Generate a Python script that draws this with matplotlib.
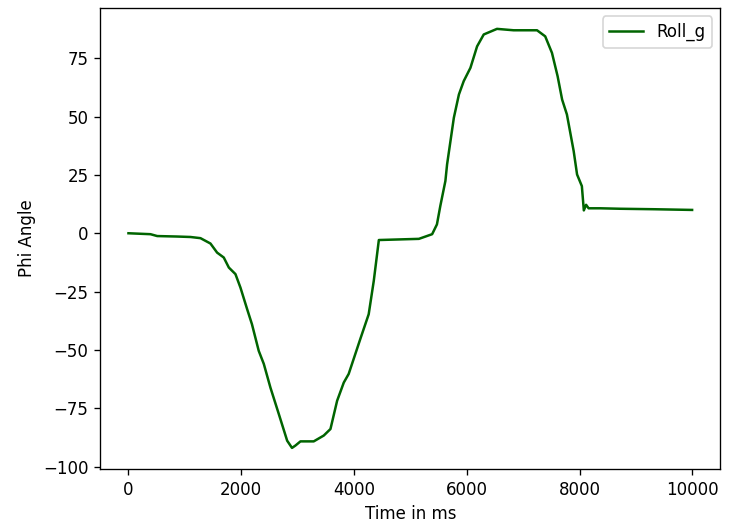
import numpy as np
import matplotlib.pyplot as plt

# values
time_ms = [0, 390, 510, 860, 1100, 1277, 1454, 1572, 1690, 1780, 1897, 1986,
           2104, 2190, 2310, 2400, 2518, 2665, 2814, 2900, 2960, 3050, 3285,
           3463, 3582, 3700, 3818, 3905, 4110, 4260, 4350, 4440, 5150, 5385,
           5470, 5530, 5620, 5650, 5770, 5860, 5945, 6064, 6182, 6300, 6535,
           6830, 7245, 7390, 7510, 7610, 7690, 7775, 7895, 7955, 8040, 8075,
           8115, 8160, 8370, 8720, 9315, 9995]
roll_g = [0.0, -0.4, -1.2, -1.4, -1.6, -2.1, -4.4, -8.3, -10.4, -14.7, -17.5,
          -23.3, -32.5, -39.0, -50.4, -56.0, -66.2, -77.4, -88.9, -92.0, -91.0,
          -89.2, -89.2, -86.7, -83.9, -71.8, -64.0, -60.3, -45.4, -34.7, -20.4,
          -2.9, -2.4, -0.4, 3.8, 11.7, 22.4, 29.5, 49.5, 59.5, 65.2, 70.9,
          80.1, 85.2, 87.6, 87.0, 87.0, 84.4, 77.3, 67.3, 57.3, 50.9, 35.2,
          25.2, 20.2, 9.8, 12.2, 10.7, 10.7, 10.5, 10.3, 10.0]

fig = plt.figure(figsize=(6.1, 4.4), dpi=120)
ax = fig.add_axes([0.137, 0.112, 0.847, 0.873])
ax.plot(time_ms, roll_g, color="darkgreen", label="Roll_g")
ax.set_xlabel("Time in ms")
ax.set_ylabel("Phi Angle")
ax.legend(loc="upper right")
fig.savefig("out.png", dpi=120)
